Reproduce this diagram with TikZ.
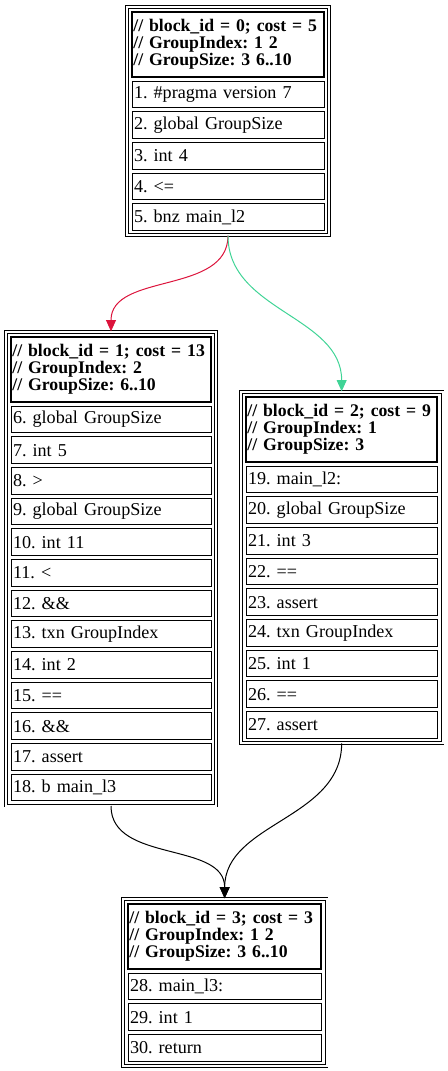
\documentclass[tikz,border=0pt]{standalone}
\usepackage{fontspec}
\setmainfont{Liberation Serif}
\usepackage{tikz}
\usetikzlibrary{positioning,fit,arrows.meta}
\usepackage{xcolor}
\definecolor{jumpred}{RGB}{220,20,60}
\definecolor{fallgreen}{RGB}{64,212,150}
\frenchspacing

\begin{document}
\begin{tikzpicture}[x=0.75pt, y=-0.75pt,
  font=\fontsize{13.6pt}{12.75pt}\selectfont,
  header/.style={draw, line width=1.5pt, rectangle, anchor=north west, align=left,
    text width=#1, inner xsep=1pt, inner ysep=0pt, minimum height=48.5pt,
    font=\fontsize{13.3pt}{12.75pt}\selectfont\bfseries},
  cell/.style={draw, line width=0.75pt, rectangle, align=left, text width=#1,
    inner xsep=1.5pt, inner ysep=0pt, minimum height=20pt},
  frame/.style={draw, double, line width=0.6pt, double distance=1.6pt, inner sep=3.2pt},
  flow/.style={-{Triangle[length=8.5pt,width=7.5pt]}, line width=0.75pt}]
  \useasboundingbox (0,0) rectangle (447,1071);

  % block 0
  \node[header=142pt] (b0r0) at (131,11) {// block\_id = 0; cost = 5\\// GroupIndex: 1 2\\// GroupSize: 3 6..10};
  \foreach \txt [count=\i from 1, remember=\i as \j (initially 0)] in
    {1. \#pragma version 7, 2. global GroupSize, 3. int 4, 4. <=, 5. bnz main\_l2}
    \node[cell=141pt, below=2.25pt of b0r\j] (b0r\i) {\txt};
  \node[frame, fit=(b0r0)(b0r5)] (b0) {};

  % block 1
  \node[header=148pt] (b1r0) at (10,336) {// block\_id = 1; cost = 13\\// GroupIndex: 2\\// GroupSize: 6..10};
  \foreach \txt [count=\i from 1, remember=\i as \j (initially 0)] in
    {6. global GroupSize, 7. int 5, 8. >, 9. global GroupSize, 10. int 11, 11. <, 12. \&\&,
     13. txn GroupIndex, 14. int 2, 15. ==, 16. \&\&, 17. assert, 18. b main\_l3}
    \node[cell=147pt, below=2.25pt of b1r\j] (b1r\i) {\txt};
  \node[frame, fit=(b1r0)(b1r13)] (b1) {};

  % block 2
  \node[header=141.5pt] (b2r0) at (245,396) {// block\_id = 2; cost = 9\\// GroupIndex: 1\\// GroupSize: 3};
  \foreach \txt [count=\i from 1, remember=\i as \j (initially 0)] in
    {19. main\_l2:, 20. global GroupSize, 21. int 3, 22. ==, 23. assert,
     24. txn GroupIndex, 25. int 1, 26. ==, 27. assert}
    \node[cell=140.5pt, below=2.25pt of b2r\j] (b2r\i) {\txt};
  \node[frame, fit=(b2r0)(b2r9)] (b2) {};

  % block 3
  \node[header=143pt] (b3r0) at (127,903) {// block\_id = 3; cost = 3\\// GroupIndex: 1 2\\// GroupSize: 3 6..10};
  \foreach \txt [count=\i from 1, remember=\i as \j (initially 0)] in
    {28. main\_l3:, 29. int 1, 30. return}
    \node[cell=142pt, below=2.25pt of b3r\j] (b3r\i) {\txt};
  \node[frame, fit=(b3r0)(b3r3)] (b3) {};

  % edges
  \draw[flow, jumpred] (b0.south) to[out=-90, in=90] (b1.north);
  \draw[flow, fallgreen] (b0.south) to[out=-90, in=90] (b2.north);
  \draw[flow] (b1.south) to[out=-90, in=90] (b3.north);
  \draw[flow] (b2.south) to[out=-90, in=90] (b3.north);
\end{tikzpicture}
\end{document}
